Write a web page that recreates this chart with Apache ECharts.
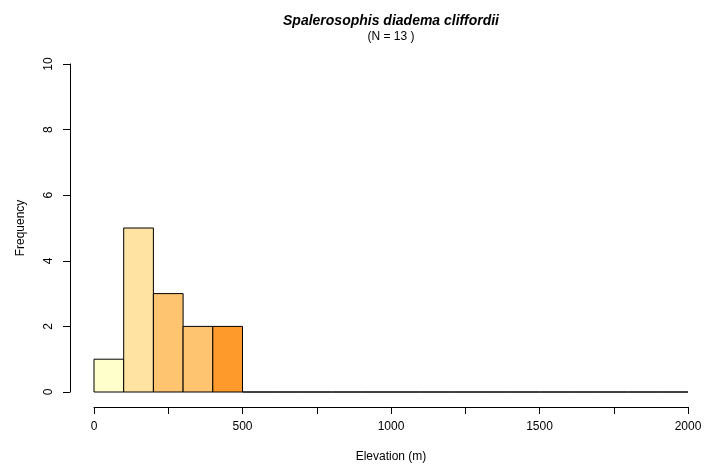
<!DOCTYPE html>
<html><head><meta charset="utf-8">
<script src="https://cdn.jsdelivr.net/npm/echarts@6/dist/echarts.min.js"></script>
<style>html,body{margin:0;padding:0;background:#fff}#c{width:716px;height:465px}</style>
</head><body><div id="c"></div>
<script>
const binStarts = [0,100,200,300,400,500,600,700,800,900,1000,1100,1200,1300,1400,1500,1600,1700,1800,1900];
const binWidth = 100;
const counts = [1,5,3,2,2,0,0,0,0,0,0,0,0,0,0,0,0,0,0,0];
const binColors = ['#FFFFCC','#FEE3A2','#FEC46F','#FEC46F','#FE9A2B'];
const titleText = 'Spalerosophis diadema cliffordii';
const subText = '(N = 13 )';
const xTitle = 'Elevation (m)';
const yTitle = 'Frequency';

const data = binStarts.map((s,i)=>[s, s+binWidth, counts[i], i]);
const font = 'Liberation Sans, Arial, Helvetica, sans-serif';
const chart = echarts.init(document.getElementById('c'));
chart.setOption({
  animation:false,
  title:{text:titleText, subtext:subText, left:391, textAlign:'center', top:13, itemGap:1, padding:0,
    textStyle:{fontFamily:font, fontSize:14, lineHeight:16, fontStyle:'italic', fontWeight:'bold', color:'#000'},
    subtextStyle:{fontFamily:font, fontSize:12, lineHeight:14, color:'#000'}},
  grid:{left:94, right:28, top:64, bottom:73, containLabel:false, outerBoundsMode:'none'},
  xAxis:{type:'value', min:0, max:2000, interval:250, offset:15,
    name:xTitle, nameLocation:'middle', nameGap:44,
    nameTextStyle:{fontFamily:font, fontSize:12, color:'#000'},
    axisLine:{show:true, onZero:false, lineStyle:{color:'#000', width:1}},
    axisTick:{show:true, length:7, lineStyle:{color:'#000'}},
    axisLabel:{fontFamily:font, fontSize:12, color:'#000', margin:14,
      formatter:v=> (v%500===0? String(v):'')},
    splitLine:{show:false}},
  yAxis:{type:'value', min:0, max:10, interval:2, offset:24,
    name:yTitle, nameLocation:'middle', nameGap:43, nameRotate:90,
    nameTextStyle:{fontFamily:font, fontSize:12, color:'#000'},
    axisLine:{show:true, onZero:false, lineStyle:{color:'#000', width:1}},
    axisTick:{show:true, length:7, lineStyle:{color:'#000'}},
    axisLabel:{fontFamily:font, fontSize:12, color:'#000', rotate:90, margin:15},
    splitLine:{show:false}},
  series:[{type:'custom', data:data, encode:{x:[0,1], y:2},
    renderItem:(params, api)=>{
      const p0 = api.coord([api.value(0), 0]);
      const p1 = api.coord([api.value(1), api.value(2)]);
      const i = api.value(3);
      return {type:'rect', shape:{x:p0[0], y:p1[1], width:p1[0]-p0[0], height:p0[1]-p1[1]},
        style:{fill: binColors[i] || '#FFFFFF', stroke:'#000', lineWidth:1}};
    }}]
});
</script></body></html>
